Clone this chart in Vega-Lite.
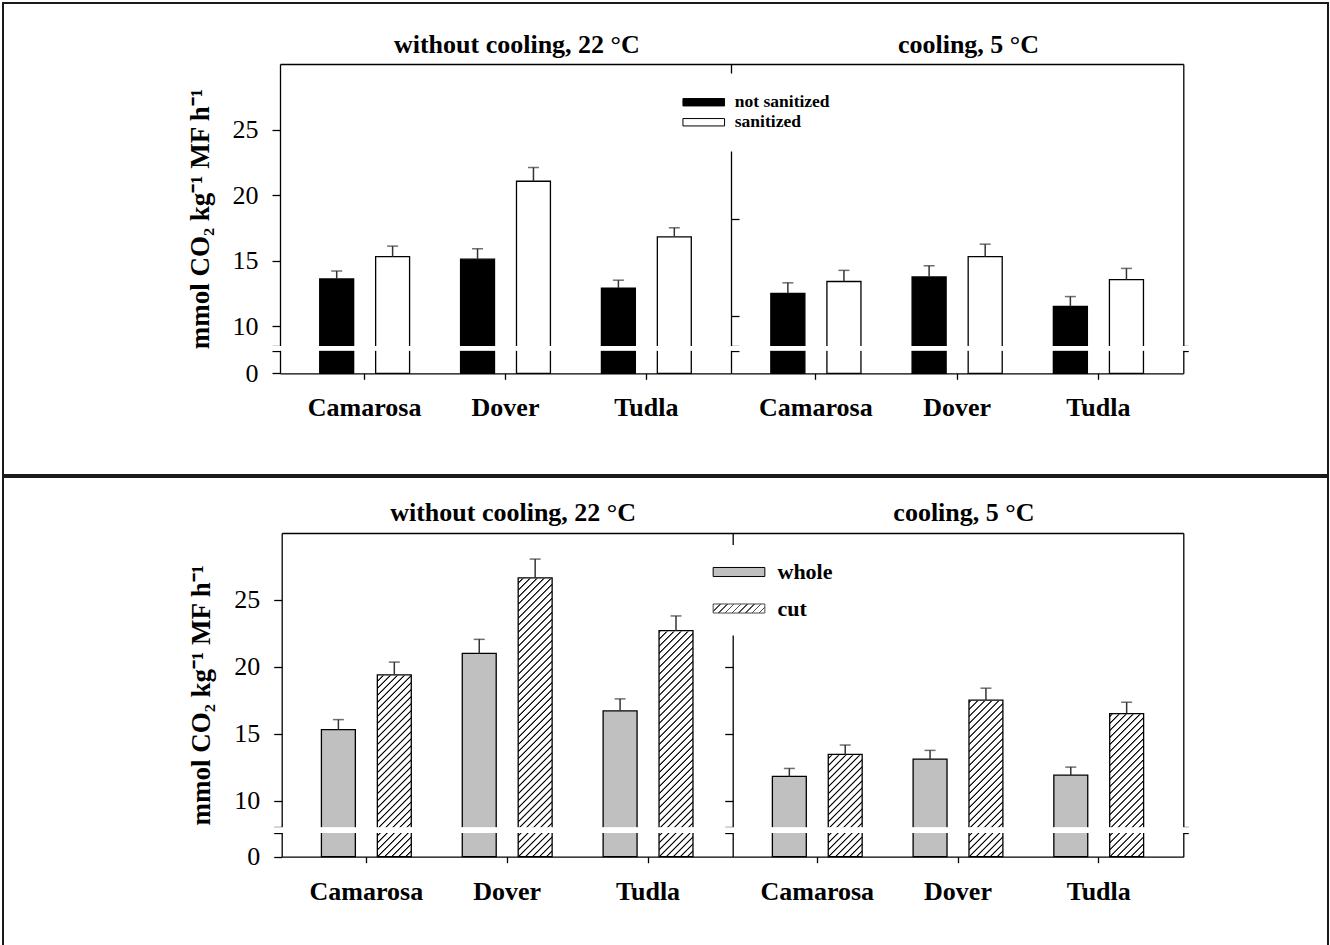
{
  "$schema": "https://vega.github.io/schema/vega-lite/v6.json",
  "padding": {"left": 2, "top": 2, "right": 1, "bottom": 0},
  "background": "white",
  "spacing": 2,
  "bounds": "flush",
  "resolve": {"scale": {"fill": "independent", "shape": "independent", "stroke": "independent"}, "legend": {"fill": "independent", "shape": "independent"}},
  "config": {
    "font": "Liberation Serif",
    "view": {"stroke": "#1a1a1a", "strokeWidth": 2},
    "axis": {"grid": false, "domainColor": "black", "tickColor": "black", "labelColor": "black", "titleColor": "black", "labelFont": "Liberation Serif", "titleFont": "Liberation Serif", "domainWidth": 1.3, "tickWidth": 1.3, "labelOverlap": false, "labelFlush": false},
    "legend": {"labelFont": "Liberation Serif", "labelColor": "black", "labelFontWeight": "bold", "labelLimit": 0}
  },
  "datasets": {
    "top": [
      {"cooling": "without cooling, 22 °C", "cultivar": "Camarosa", "treatment": "not sanitized", "mean": 13.6, "upper": 14.2},
      {"cooling": "without cooling, 22 °C", "cultivar": "Camarosa", "treatment": "sanitized", "mean": 15.3, "upper": 16.1},
      {"cooling": "without cooling, 22 °C", "cultivar": "Dover", "treatment": "not sanitized", "mean": 15.1, "upper": 15.9},
      {"cooling": "without cooling, 22 °C", "cultivar": "Dover", "treatment": "sanitized", "mean": 21.05, "upper": 22.1},
      {"cooling": "without cooling, 22 °C", "cultivar": "Tudla", "treatment": "not sanitized", "mean": 12.9, "upper": 13.5},
      {"cooling": "without cooling, 22 °C", "cultivar": "Tudla", "treatment": "sanitized", "mean": 16.8, "upper": 17.5},
      {"cooling": "cooling, 5 °C", "cultivar": "Camarosa", "treatment": "not sanitized", "mean": 12.5, "upper": 13.3},
      {"cooling": "cooling, 5 °C", "cultivar": "Camarosa", "treatment": "sanitized", "mean": 13.4, "upper": 14.25},
      {"cooling": "cooling, 5 °C", "cultivar": "Dover", "treatment": "not sanitized", "mean": 13.75, "upper": 14.6},
      {"cooling": "cooling, 5 °C", "cultivar": "Dover", "treatment": "sanitized", "mean": 15.3, "upper": 16.25},
      {"cooling": "cooling, 5 °C", "cultivar": "Tudla", "treatment": "not sanitized", "mean": 11.5, "upper": 12.25},
      {"cooling": "cooling, 5 °C", "cultivar": "Tudla", "treatment": "sanitized", "mean": 13.55, "upper": 14.4}
    ],
    "bottom": [
      {"cooling": "without cooling, 22 °C", "cultivar": "Camarosa", "treatment": "whole", "mean": 15.3, "upper": 16.05},
      {"cooling": "without cooling, 22 °C", "cultivar": "Camarosa", "treatment": "cut", "mean": 19.4, "upper": 20.35},
      {"cooling": "without cooling, 22 °C", "cultivar": "Dover", "treatment": "whole", "mean": 21.0, "upper": 22.05},
      {"cooling": "without cooling, 22 °C", "cultivar": "Dover", "treatment": "cut", "mean": 26.65, "upper": 28.05},
      {"cooling": "without cooling, 22 °C", "cultivar": "Tudla", "treatment": "whole", "mean": 16.7, "upper": 17.6},
      {"cooling": "without cooling, 22 °C", "cultivar": "Tudla", "treatment": "cut", "mean": 22.7, "upper": 23.8},
      {"cooling": "cooling, 5 °C", "cultivar": "Camarosa", "treatment": "whole", "mean": 11.8, "upper": 12.4},
      {"cooling": "cooling, 5 °C", "cultivar": "Camarosa", "treatment": "cut", "mean": 13.45, "upper": 14.15},
      {"cooling": "cooling, 5 °C", "cultivar": "Dover", "treatment": "whole", "mean": 13.1, "upper": 13.75},
      {"cooling": "cooling, 5 °C", "cultivar": "Dover", "treatment": "cut", "mean": 17.5, "upper": 18.4},
      {"cooling": "cooling, 5 °C", "cultivar": "Tudla", "treatment": "whole", "mean": 11.9, "upper": 12.5},
      {"cooling": "cooling, 5 °C", "cultivar": "Tudla", "treatment": "cut", "mean": 16.5, "upper": 17.35}
    ]
  },
  "vconcat": [
    {
      "width": 1325,
      "height": 472,
      "data": {"name": "top"},
      "resolve": {"scale": {"x": "independent", "xOffset": "independent"}, "axis": {"x": "independent", "y": "independent"}},
      "layer": [
        {
          "transform": [{"filter": {"field": "cooling", "equal": "without cooling, 22 °C"}}],
          "encoding": {
            "x": {"field": "cultivar", "type": "nominal", "scale": {"domain": ["Camarosa", "Dover", "Tudla"], "range": [277, 728], "paddingInner": 0.362, "paddingOuter": 0.282},
                  "axis": {"orient": "bottom", "offset": -101.7, "title": null, "labelFontSize": 26, "labelFontWeight": "bold", "labelPadding": 15.5, "tickSize": 6, "labelAngle": 0}},
            "xOffset": {"field": "treatment", "type": "nominal", "scale": {"domain": ["not sanitized", "sanitized"], "paddingInner": 0.393, "paddingOuter": 0}}
          },
          "layer": [
            {
              "mark": {"type": "bar", "stroke": "black", "strokeWidth": 1.3},
              "encoding": {
                "y": {"field": "mean", "type": "quantitative", "scale": {"domain": [0, 4, 8.5, 30], "range": [370.3, 347.7, 342.7, 61], "zero": false, "nice": false},
                      "axis": {"orient": "left", "offset": -277, "values": [0, 4, 8.5, 10, 15, 20, 25], "format": "d", "labelExpr": "datum.value == 0 || datum.value >= 10 ? datum.label : ''", "labelFontSize": 26, "labelPadding": 14, "tickSize": 8, "title": "mmol CO₂ kg⁻¹ MF h⁻¹", "titleFontSize": 27, "titleFontWeight": "bold", "titlePadding": 18,
                               "encode": {"ticks": {"x": {"condition": {"test": "datum.value == 4 || datum.value == 8.5", "value": -2}, "value": 0}, "x2": {"condition": {"test": "datum.value == 4 || datum.value == 8.5", "value": 10}, "value": -8}}}}},
                "fill": {"field": "treatment", "type": "nominal", "scale": {"domain": ["not sanitized", "sanitized"], "range": ["black", "white"]},
                         "legend": {"orient": "none", "legendX": 672, "legendY": 70.5, "title": null, "direction": "vertical", "symbolType": "M-4,-0.71H4V0.71H-4Z", "symbolSize": 108.2, "symbolStrokeColor": "black", "symbolStrokeWidth": 1, "labelFontSize": 17.5, "labelOffset": 22.3, "rowPadding": 1, "padding": 20, "fillColor": "white"}}
              }
            },
            {
              "mark": {"type": "rule", "color": "#333", "strokeWidth": 1.5},
              "encoding": {"y": {"field": "mean", "type": "quantitative", "scale": {"domain": [0, 4, 8.5, 30], "range": [370.3, 347.7, 342.7, 61], "zero": false, "nice": false}}, "y2": {"field": "upper"}}
            },
            {
              "mark": {"type": "tick", "color": "#333", "thickness": 1.5, "size": 11, "orient": "horizontal"},
              "encoding": {"y": {"field": "upper", "type": "quantitative", "scale": {"domain": [0, 4, 8.5, 30], "range": [370.3, 347.7, 342.7, 61], "zero": false, "nice": false}}}
            }
          ]
        },
        {
          "transform": [{"filter": {"field": "cooling", "equal": "cooling, 5 °C"}}],
          "encoding": {
            "x": {"field": "cultivar", "type": "nominal", "scale": {"domain": ["Camarosa", "Dover", "Tudla"], "range": [728, 1180.3], "paddingInner": 0.362, "paddingOuter": 0.282},
                  "axis": {"orient": "bottom", "offset": -101.7, "title": null, "labelFontSize": 26, "labelFontWeight": "bold", "labelPadding": 15.5, "tickSize": 6, "labelAngle": 0}},
            "xOffset": {"field": "treatment", "type": "nominal", "scale": {"domain": ["not sanitized", "sanitized"], "paddingInner": 0.393, "paddingOuter": 0}}
          },
          "layer": [
            {
              "mark": {"type": "bar", "stroke": "black", "strokeWidth": 1.3},
              "encoding": {
                "y": {"field": "mean", "type": "quantitative", "scale": {"domain": [0, 4, 8.5, 30], "range": [370.3, 347.7, 342.7, 61], "zero": false, "nice": false},
                      "axis": {"orient": "left", "offset": -728, "values": [4, 8.5, 10.75, 18.15], "labels": false, "title": null, "tickSize": -8,
                               "encode": {"ticks": {"x": {"condition": {"test": "datum.value < 9", "value": -10}, "value": 0}, "x2": {"condition": {"test": "datum.value < 9", "value": 10}, "value": 8}}}}},
                "fill": {"field": "treatment", "type": "nominal", "scale": {"domain": ["not sanitized", "sanitized"], "range": ["black", "white"]},
                         "legend": {"orient": "none", "legendX": 672, "legendY": 70.5, "title": null, "direction": "vertical", "symbolType": "M-4,-0.71H4V0.71H-4Z", "symbolSize": 108.2, "symbolStrokeColor": "black", "symbolStrokeWidth": 1, "labelFontSize": 17.5, "labelOffset": 22.3, "rowPadding": 1, "padding": 20, "fillColor": "white"}}
              }
            },
            {
              "mark": {"type": "rule", "color": "#333", "strokeWidth": 1.5},
              "encoding": {"y": {"field": "mean", "type": "quantitative", "scale": {"domain": [0, 4, 8.5, 30], "range": [370.3, 347.7, 342.7, 61], "zero": false, "nice": false}}, "y2": {"field": "upper"}}
            },
            {
              "mark": {"type": "tick", "color": "#333", "thickness": 1.5, "size": 11, "orient": "horizontal"},
              "encoding": {"y": {"field": "upper", "type": "quantitative", "scale": {"domain": [0, 4, 8.5, 30], "range": [370.3, 347.7, 342.7, 61], "zero": false, "nice": false}}}
            }
          ]
        },
        {
          "mark": {"type": "rect", "color": "white"},
          "encoding": {
            "x": {"field": "cooling", "type": "nominal", "scale": {"domain": ["without cooling, 22 °C", "cooling, 5 °C"], "range": [268, 1190], "paddingInner": 0, "paddingOuter": 0}, "axis": null},
            "y": {"datum": 4.45, "type": "quantitative", "scale": {"domain": [0, 4, 8.5, 30], "range": [370.3, 347.7, 342.7, 61], "zero": false, "nice": false},
                  "axis": {"orient": "right", "offset": -144.7, "values": [4, 8.5], "labels": false, "title": null, "encode": {"ticks": {"x": {"value": -10}, "x2": {"value": 10}}}}},
            "y2": {"datum": 8.05}
          }
        },
        {
          "mark": {"type": "rect", "opacity": 0},
          "encoding": {
            "x": {"field": "cooling", "type": "nominal", "scale": {"domain": ["without cooling, 22 °C", "cooling, 5 °C"], "range": [277, 1180.3], "paddingInner": 0, "paddingOuter": 0},
                  "axis": {"orient": "top", "offset": -61, "title": null, "ticks": false, "labelFontSize": 26, "labelFontWeight": "bold", "labelPadding": 7, "labelLimit": 0, "labelAngle": 0, "labelOffset": 11}},
            "y": {"datum": 29.9, "type": "quantitative", "scale": {"domain": [0, 4, 8.5, 30], "range": [370.3, 347.7, 342.7, 61], "zero": false, "nice": false}, "axis": null},
            "y2": {"datum": 30}
          }
        }
      ]
    },
    {
      "width": 1325,
      "height": 472,
      "data": {"name": "bottom"},
      "resolve": {"scale": {"x": "independent", "xOffset": "independent"}, "axis": {"x": "independent", "y": "independent"}},
      "layer": [
        {
          "transform": [{"filter": {"field": "cooling", "equal": "without cooling, 22 °C"}}],
          "encoding": {
            "x": {"field": "cultivar", "type": "nominal", "scale": {"domain": ["Camarosa", "Dover", "Tudla"], "range": [278.7, 729.7], "paddingInner": 0.362, "paddingOuter": 0.282},
                  "axis": {"orient": "bottom", "offset": -92.3, "title": null, "labelFontSize": 26, "labelFontWeight": "bold", "labelPadding": 15.5, "tickSize": 6, "labelAngle": 0}},
            "xOffset": {"field": "treatment", "type": "nominal", "scale": {"domain": ["whole", "cut"], "paddingInner": 0.393, "paddingOuter": 0}}
          },
          "layer": [
            {
              "transform": [{"filter": {"field": "treatment", "equal": "cut"}}],
              "mark": {"type": "bar", "fill": {"gradient": "linear", "x1": 0, "y1": 0, "x2": 0.1174, "y2": 1.0947, "stops": [
                {"offset":0,"color":"#fff"},{"offset":0.003,"color":"#000"},{"offset":0.0045,"color":"#000"},{"offset":0.0075,"color":"#fff"},
                {"offset":0.02,"color":"#fff"},{"offset":0.023,"color":"#000"},{"offset":0.0245,"color":"#000"},{"offset":0.0275,"color":"#fff"},
                {"offset":0.04,"color":"#fff"},{"offset":0.043,"color":"#000"},{"offset":0.0445,"color":"#000"},{"offset":0.0475,"color":"#fff"},
                {"offset":0.06,"color":"#fff"},{"offset":0.063,"color":"#000"},{"offset":0.0645,"color":"#000"},{"offset":0.0675,"color":"#fff"},
                {"offset":0.08,"color":"#fff"},{"offset":0.083,"color":"#000"},{"offset":0.0845,"color":"#000"},{"offset":0.0875,"color":"#fff"},
                {"offset":0.1,"color":"#fff"},{"offset":0.103,"color":"#000"},{"offset":0.1045,"color":"#000"},{"offset":0.1075,"color":"#fff"},
                {"offset":0.12,"color":"#fff"},{"offset":0.123,"color":"#000"},{"offset":0.1245,"color":"#000"},{"offset":0.1275,"color":"#fff"},
                {"offset":0.14,"color":"#fff"},{"offset":0.143,"color":"#000"},{"offset":0.1445,"color":"#000"},{"offset":0.1475,"color":"#fff"},
                {"offset":0.16,"color":"#fff"},{"offset":0.163,"color":"#000"},{"offset":0.1645,"color":"#000"},{"offset":0.1675,"color":"#fff"},
                {"offset":0.18,"color":"#fff"},{"offset":0.183,"color":"#000"},{"offset":0.1845,"color":"#000"},{"offset":0.1875,"color":"#fff"},
                {"offset":0.2,"color":"#fff"},{"offset":0.203,"color":"#000"},{"offset":0.2045,"color":"#000"},{"offset":0.2075,"color":"#fff"},
                {"offset":0.22,"color":"#fff"},{"offset":0.223,"color":"#000"},{"offset":0.2245,"color":"#000"},{"offset":0.2275,"color":"#fff"},
                {"offset":0.24,"color":"#fff"},{"offset":0.243,"color":"#000"},{"offset":0.2445,"color":"#000"},{"offset":0.2475,"color":"#fff"},
                {"offset":0.26,"color":"#fff"},{"offset":0.263,"color":"#000"},{"offset":0.2645,"color":"#000"},{"offset":0.2675,"color":"#fff"},
                {"offset":0.28,"color":"#fff"},{"offset":0.283,"color":"#000"},{"offset":0.2845,"color":"#000"},{"offset":0.2875,"color":"#fff"},
                {"offset":0.3,"color":"#fff"},{"offset":0.303,"color":"#000"},{"offset":0.3045,"color":"#000"},{"offset":0.3075,"color":"#fff"},
                {"offset":0.32,"color":"#fff"},{"offset":0.323,"color":"#000"},{"offset":0.3245,"color":"#000"},{"offset":0.3275,"color":"#fff"},
                {"offset":0.34,"color":"#fff"},{"offset":0.343,"color":"#000"},{"offset":0.3445,"color":"#000"},{"offset":0.3475,"color":"#fff"},
                {"offset":0.36,"color":"#fff"},{"offset":0.363,"color":"#000"},{"offset":0.3645,"color":"#000"},{"offset":0.3675,"color":"#fff"},
                {"offset":0.38,"color":"#fff"},{"offset":0.383,"color":"#000"},{"offset":0.3845,"color":"#000"},{"offset":0.3875,"color":"#fff"},
                {"offset":0.4,"color":"#fff"},{"offset":0.403,"color":"#000"},{"offset":0.4045,"color":"#000"},{"offset":0.4075,"color":"#fff"},
                {"offset":0.42,"color":"#fff"},{"offset":0.423,"color":"#000"},{"offset":0.4245,"color":"#000"},{"offset":0.4275,"color":"#fff"},
                {"offset":0.44,"color":"#fff"},{"offset":0.443,"color":"#000"},{"offset":0.4445,"color":"#000"},{"offset":0.4475,"color":"#fff"},
                {"offset":0.46,"color":"#fff"},{"offset":0.463,"color":"#000"},{"offset":0.4645,"color":"#000"},{"offset":0.4675,"color":"#fff"},
                {"offset":0.48,"color":"#fff"},{"offset":0.483,"color":"#000"},{"offset":0.4845,"color":"#000"},{"offset":0.4875,"color":"#fff"},
                {"offset":0.5,"color":"#fff"},{"offset":0.503,"color":"#000"},{"offset":0.5045,"color":"#000"},{"offset":0.5075,"color":"#fff"},
                {"offset":0.52,"color":"#fff"},{"offset":0.523,"color":"#000"},{"offset":0.5245,"color":"#000"},{"offset":0.5275,"color":"#fff"},
                {"offset":0.54,"color":"#fff"},{"offset":0.543,"color":"#000"},{"offset":0.5445,"color":"#000"},{"offset":0.5475,"color":"#fff"},
                {"offset":0.56,"color":"#fff"},{"offset":0.563,"color":"#000"},{"offset":0.5645,"color":"#000"},{"offset":0.5675,"color":"#fff"},
                {"offset":0.58,"color":"#fff"},{"offset":0.583,"color":"#000"},{"offset":0.5845,"color":"#000"},{"offset":0.5875,"color":"#fff"},
                {"offset":0.6,"color":"#fff"},{"offset":0.603,"color":"#000"},{"offset":0.6045,"color":"#000"},{"offset":0.6075,"color":"#fff"},
                {"offset":0.62,"color":"#fff"},{"offset":0.623,"color":"#000"},{"offset":0.6245,"color":"#000"},{"offset":0.6275,"color":"#fff"},
                {"offset":0.64,"color":"#fff"},{"offset":0.643,"color":"#000"},{"offset":0.6445,"color":"#000"},{"offset":0.6475,"color":"#fff"},
                {"offset":0.66,"color":"#fff"},{"offset":0.663,"color":"#000"},{"offset":0.6645,"color":"#000"},{"offset":0.6675,"color":"#fff"},
                {"offset":0.68,"color":"#fff"},{"offset":0.683,"color":"#000"},{"offset":0.6845,"color":"#000"},{"offset":0.6875,"color":"#fff"},
                {"offset":0.7,"color":"#fff"},{"offset":0.703,"color":"#000"},{"offset":0.7045,"color":"#000"},{"offset":0.7075,"color":"#fff"},
                {"offset":0.72,"color":"#fff"},{"offset":0.723,"color":"#000"},{"offset":0.7245,"color":"#000"},{"offset":0.7275,"color":"#fff"},
                {"offset":0.74,"color":"#fff"},{"offset":0.743,"color":"#000"},{"offset":0.7445,"color":"#000"},{"offset":0.7475,"color":"#fff"},
                {"offset":0.76,"color":"#fff"},{"offset":0.763,"color":"#000"},{"offset":0.7645,"color":"#000"},{"offset":0.7675,"color":"#fff"},
                {"offset":0.78,"color":"#fff"},{"offset":0.783,"color":"#000"},{"offset":0.7845,"color":"#000"},{"offset":0.7875,"color":"#fff"},
                {"offset":0.8,"color":"#fff"},{"offset":0.803,"color":"#000"},{"offset":0.8045,"color":"#000"},{"offset":0.8075,"color":"#fff"},
                {"offset":0.82,"color":"#fff"},{"offset":0.823,"color":"#000"},{"offset":0.8245,"color":"#000"},{"offset":0.8275,"color":"#fff"},
                {"offset":0.84,"color":"#fff"},{"offset":0.843,"color":"#000"},{"offset":0.8445,"color":"#000"},{"offset":0.8475,"color":"#fff"},
                {"offset":0.86,"color":"#fff"},{"offset":0.863,"color":"#000"},{"offset":0.8645,"color":"#000"},{"offset":0.8675,"color":"#fff"},
                {"offset":0.88,"color":"#fff"},{"offset":0.883,"color":"#000"},{"offset":0.8845,"color":"#000"},{"offset":0.8875,"color":"#fff"},
                {"offset":0.9,"color":"#fff"},{"offset":0.903,"color":"#000"},{"offset":0.9045,"color":"#000"},{"offset":0.9075,"color":"#fff"},
                {"offset":0.92,"color":"#fff"},{"offset":0.923,"color":"#000"},{"offset":0.9245,"color":"#000"},{"offset":0.9275,"color":"#fff"},
                {"offset":0.94,"color":"#fff"},{"offset":0.943,"color":"#000"},{"offset":0.9445,"color":"#000"},{"offset":0.9475,"color":"#fff"},
                {"offset":0.96,"color":"#fff"},{"offset":0.963,"color":"#000"},{"offset":0.9645,"color":"#000"},{"offset":0.9675,"color":"#fff"},
                {"offset":0.98,"color":"#fff"},{"offset":0.983,"color":"#000"},{"offset":0.9845,"color":"#000"},{"offset":0.9875,"color":"#fff"},
                {"offset":1,"color":"#fff"}
              ]}},
              "encoding": {
                "y": {"datum": 29.5, "type": "quantitative", "scale": {"domain": [0, 4, 8, 30], "range": [379.7, 356.3, 350.3, 56], "zero": false, "nice": false},
                      "axis": {"orient": "left", "offset": -278.7, "values": [0, 4, 8, 10, 15, 20, 25], "format": "d", "labelExpr": "datum.value == 0 || datum.value >= 10 ? datum.label : ''", "labelFontSize": 26, "labelPadding": 14, "tickSize": 8, "title": "mmol CO₂ kg⁻¹ MF h⁻¹", "titleFontSize": 27, "titleFontWeight": "bold", "titlePadding": 18,
                               "encode": {"ticks": {"x": {"condition": {"test": "datum.value == 4 || datum.value == 8", "value": -2}, "value": 0}, "x2": {"condition": {"test": "datum.value == 4 || datum.value == 8", "value": 10}, "value": -8}}}}},
                "y2": {"datum": 0}
              }
            },
            {
              "transform": [{"filter": {"field": "treatment", "equal": "cut"}}],
              "mark": {"type": "bar", "fill": "white", "stroke": "white", "strokeWidth": 1.5},
              "encoding": {"y": {"field": "mean", "type": "quantitative", "scale": {"domain": [0, 4, 8, 30], "range": [379.7, 356.3, 350.3, 56], "zero": false, "nice": false}}, "y2": {"datum": 29.7}}
            },
            {
              "mark": {"type": "bar", "stroke": "black", "strokeWidth": 1.3},
              "encoding": {
                "y": {"field": "mean", "type": "quantitative", "scale": {"domain": [0, 4, 8, 30], "range": [379.7, 356.3, 350.3, 56], "zero": false, "nice": false}},
                "fill": {"field": "treatment", "type": "nominal", "scale": {"domain": ["whole", "cut"], "range": ["#c0c0c0", "rgba(0,0,0,0)"]},
                         "legend": {"orient": "none", "legendX": 709, "legendY": 68, "title": null, "values": ["whole"], "direction": "vertical", "symbolType": "M-4,-0.7H4V0.7H-4Z", "symbolSize": 167, "symbolStrokeColor": "black", "symbolStrokeWidth": 1, "labelFontSize": 22, "labelOffset": 27.5, "padding": 16, "fillColor": "white"}}
              }
            },
            {
              "mark": {"type": "rule", "color": "#333", "strokeWidth": 1.5},
              "encoding": {"y": {"field": "mean", "type": "quantitative", "scale": {"domain": [0, 4, 8, 30], "range": [379.7, 356.3, 350.3, 56], "zero": false, "nice": false}}, "y2": {"field": "upper"}}
            },
            {
              "mark": {"type": "tick", "color": "#333", "thickness": 1.5, "size": 11, "orient": "horizontal"},
              "encoding": {"y": {"field": "upper", "type": "quantitative", "scale": {"domain": [0, 4, 8, 30], "range": [379.7, 356.3, 350.3, 56], "zero": false, "nice": false}}}
            },
            {
              "transform": [{"filter": {"field": "treatment", "equal": "cut"}}],
              "mark": {"type": "point", "filled": true, "size": 1, "strokeWidth": 1, "fill": {"gradient": "linear", "x1": 0, "y1": 0, "x2": 1.1395, "y2": 0.1983, "stops": [
                {"offset":0,"color":"#000"},{"offset":0.025,"color":"#000"},{"offset":0.025,"color":"#fff"},{"offset":0.1111,"color":"#fff"},
                {"offset":0.1111,"color":"#000"},{"offset":0.1361,"color":"#000"},{"offset":0.1361,"color":"#fff"},{"offset":0.2222,"color":"#fff"},
                {"offset":0.2222,"color":"#000"},{"offset":0.2472,"color":"#000"},{"offset":0.2472,"color":"#fff"},{"offset":0.3333,"color":"#fff"},
                {"offset":0.3333,"color":"#000"},{"offset":0.3583,"color":"#000"},{"offset":0.3583,"color":"#fff"},{"offset":0.4444,"color":"#fff"},
                {"offset":0.4444,"color":"#000"},{"offset":0.4694,"color":"#000"},{"offset":0.4694,"color":"#fff"},{"offset":0.5556,"color":"#fff"},
                {"offset":0.5556,"color":"#000"},{"offset":0.5806,"color":"#000"},{"offset":0.5806,"color":"#fff"},{"offset":0.6667,"color":"#fff"},
                {"offset":0.6667,"color":"#000"},{"offset":0.6917,"color":"#000"},{"offset":0.6917,"color":"#fff"},{"offset":0.7778,"color":"#fff"},
                {"offset":0.7778,"color":"#000"},{"offset":0.8028,"color":"#000"},{"offset":0.8028,"color":"#fff"},{"offset":0.8889,"color":"#fff"},
                {"offset":0.8889,"color":"#000"},{"offset":0.9139,"color":"#000"},{"offset":0.9139,"color":"#fff"},{"offset":1,"color":"#fff"}
              ]}},
              "encoding": {
                "y": {"datum": 6, "type": "quantitative", "scale": {"domain": [0, 4, 8, 30], "range": [379.7, 356.3, 350.3, 56], "zero": false, "nice": false}},
                "stroke": {"field": "treatment", "type": "nominal", "scale": {"domain": ["cut"], "range": ["black"]}, "legend": null},
                "shape": {"field": "treatment", "type": "nominal", "scale": {"domain": ["cut"], "range": ["M-4,-0.7H4V0.7H-4Z"]},
                          "legend": {"orient": "none", "legendX": 709, "legendY": 104.5, "title": null, "direction": "vertical", "symbolSize": 167, "symbolStrokeWidth": 1, "labelFontSize": 22, "labelOffset": 27.5, "padding": 16, "fillColor": "white"}}
              }
            }
          ]
        },
        {
          "transform": [{"filter": {"field": "cooling", "equal": "cooling, 5 °C"}}],
          "encoding": {
            "x": {"field": "cultivar", "type": "nominal", "scale": {"domain": ["Camarosa", "Dover", "Tudla"], "range": [729.7, 1180.3], "paddingInner": 0.362, "paddingOuter": 0.282},
                  "axis": {"orient": "bottom", "offset": -92.3, "title": null, "labelFontSize": 26, "labelFontWeight": "bold", "labelPadding": 15.5, "tickSize": 6, "labelAngle": 0}},
            "xOffset": {"field": "treatment", "type": "nominal", "scale": {"domain": ["whole", "cut"], "paddingInner": 0.393, "paddingOuter": 0}}
          },
          "layer": [
            {
              "transform": [{"filter": {"field": "treatment", "equal": "cut"}}],
              "mark": {"type": "bar", "fill": {"gradient": "linear", "x1": 0, "y1": 0, "x2": 0.1174, "y2": 1.0947, "stops": [
                {"offset":0,"color":"#fff"},{"offset":0.003,"color":"#000"},{"offset":0.0045,"color":"#000"},{"offset":0.0075,"color":"#fff"},
                {"offset":0.02,"color":"#fff"},{"offset":0.023,"color":"#000"},{"offset":0.0245,"color":"#000"},{"offset":0.0275,"color":"#fff"},
                {"offset":0.04,"color":"#fff"},{"offset":0.043,"color":"#000"},{"offset":0.0445,"color":"#000"},{"offset":0.0475,"color":"#fff"},
                {"offset":0.06,"color":"#fff"},{"offset":0.063,"color":"#000"},{"offset":0.0645,"color":"#000"},{"offset":0.0675,"color":"#fff"},
                {"offset":0.08,"color":"#fff"},{"offset":0.083,"color":"#000"},{"offset":0.0845,"color":"#000"},{"offset":0.0875,"color":"#fff"},
                {"offset":0.1,"color":"#fff"},{"offset":0.103,"color":"#000"},{"offset":0.1045,"color":"#000"},{"offset":0.1075,"color":"#fff"},
                {"offset":0.12,"color":"#fff"},{"offset":0.123,"color":"#000"},{"offset":0.1245,"color":"#000"},{"offset":0.1275,"color":"#fff"},
                {"offset":0.14,"color":"#fff"},{"offset":0.143,"color":"#000"},{"offset":0.1445,"color":"#000"},{"offset":0.1475,"color":"#fff"},
                {"offset":0.16,"color":"#fff"},{"offset":0.163,"color":"#000"},{"offset":0.1645,"color":"#000"},{"offset":0.1675,"color":"#fff"},
                {"offset":0.18,"color":"#fff"},{"offset":0.183,"color":"#000"},{"offset":0.1845,"color":"#000"},{"offset":0.1875,"color":"#fff"},
                {"offset":0.2,"color":"#fff"},{"offset":0.203,"color":"#000"},{"offset":0.2045,"color":"#000"},{"offset":0.2075,"color":"#fff"},
                {"offset":0.22,"color":"#fff"},{"offset":0.223,"color":"#000"},{"offset":0.2245,"color":"#000"},{"offset":0.2275,"color":"#fff"},
                {"offset":0.24,"color":"#fff"},{"offset":0.243,"color":"#000"},{"offset":0.2445,"color":"#000"},{"offset":0.2475,"color":"#fff"},
                {"offset":0.26,"color":"#fff"},{"offset":0.263,"color":"#000"},{"offset":0.2645,"color":"#000"},{"offset":0.2675,"color":"#fff"},
                {"offset":0.28,"color":"#fff"},{"offset":0.283,"color":"#000"},{"offset":0.2845,"color":"#000"},{"offset":0.2875,"color":"#fff"},
                {"offset":0.3,"color":"#fff"},{"offset":0.303,"color":"#000"},{"offset":0.3045,"color":"#000"},{"offset":0.3075,"color":"#fff"},
                {"offset":0.32,"color":"#fff"},{"offset":0.323,"color":"#000"},{"offset":0.3245,"color":"#000"},{"offset":0.3275,"color":"#fff"},
                {"offset":0.34,"color":"#fff"},{"offset":0.343,"color":"#000"},{"offset":0.3445,"color":"#000"},{"offset":0.3475,"color":"#fff"},
                {"offset":0.36,"color":"#fff"},{"offset":0.363,"color":"#000"},{"offset":0.3645,"color":"#000"},{"offset":0.3675,"color":"#fff"},
                {"offset":0.38,"color":"#fff"},{"offset":0.383,"color":"#000"},{"offset":0.3845,"color":"#000"},{"offset":0.3875,"color":"#fff"},
                {"offset":0.4,"color":"#fff"},{"offset":0.403,"color":"#000"},{"offset":0.4045,"color":"#000"},{"offset":0.4075,"color":"#fff"},
                {"offset":0.42,"color":"#fff"},{"offset":0.423,"color":"#000"},{"offset":0.4245,"color":"#000"},{"offset":0.4275,"color":"#fff"},
                {"offset":0.44,"color":"#fff"},{"offset":0.443,"color":"#000"},{"offset":0.4445,"color":"#000"},{"offset":0.4475,"color":"#fff"},
                {"offset":0.46,"color":"#fff"},{"offset":0.463,"color":"#000"},{"offset":0.4645,"color":"#000"},{"offset":0.4675,"color":"#fff"},
                {"offset":0.48,"color":"#fff"},{"offset":0.483,"color":"#000"},{"offset":0.4845,"color":"#000"},{"offset":0.4875,"color":"#fff"},
                {"offset":0.5,"color":"#fff"},{"offset":0.503,"color":"#000"},{"offset":0.5045,"color":"#000"},{"offset":0.5075,"color":"#fff"},
                {"offset":0.52,"color":"#fff"},{"offset":0.523,"color":"#000"},{"offset":0.5245,"color":"#000"},{"offset":0.5275,"color":"#fff"},
                {"offset":0.54,"color":"#fff"},{"offset":0.543,"color":"#000"},{"offset":0.5445,"color":"#000"},{"offset":0.5475,"color":"#fff"},
                {"offset":0.56,"color":"#fff"},{"offset":0.563,"color":"#000"},{"offset":0.5645,"color":"#000"},{"offset":0.5675,"color":"#fff"},
                {"offset":0.58,"color":"#fff"},{"offset":0.583,"color":"#000"},{"offset":0.5845,"color":"#000"},{"offset":0.5875,"color":"#fff"},
                {"offset":0.6,"color":"#fff"},{"offset":0.603,"color":"#000"},{"offset":0.6045,"color":"#000"},{"offset":0.6075,"color":"#fff"},
                {"offset":0.62,"color":"#fff"},{"offset":0.623,"color":"#000"},{"offset":0.6245,"color":"#000"},{"offset":0.6275,"color":"#fff"},
                {"offset":0.64,"color":"#fff"},{"offset":0.643,"color":"#000"},{"offset":0.6445,"color":"#000"},{"offset":0.6475,"color":"#fff"},
                {"offset":0.66,"color":"#fff"},{"offset":0.663,"color":"#000"},{"offset":0.6645,"color":"#000"},{"offset":0.6675,"color":"#fff"},
                {"offset":0.68,"color":"#fff"},{"offset":0.683,"color":"#000"},{"offset":0.6845,"color":"#000"},{"offset":0.6875,"color":"#fff"},
                {"offset":0.7,"color":"#fff"},{"offset":0.703,"color":"#000"},{"offset":0.7045,"color":"#000"},{"offset":0.7075,"color":"#fff"},
                {"offset":0.72,"color":"#fff"},{"offset":0.723,"color":"#000"},{"offset":0.7245,"color":"#000"},{"offset":0.7275,"color":"#fff"},
                {"offset":0.74,"color":"#fff"},{"offset":0.743,"color":"#000"},{"offset":0.7445,"color":"#000"},{"offset":0.7475,"color":"#fff"},
                {"offset":0.76,"color":"#fff"},{"offset":0.763,"color":"#000"},{"offset":0.7645,"color":"#000"},{"offset":0.7675,"color":"#fff"},
                {"offset":0.78,"color":"#fff"},{"offset":0.783,"color":"#000"},{"offset":0.7845,"color":"#000"},{"offset":0.7875,"color":"#fff"},
                {"offset":0.8,"color":"#fff"},{"offset":0.803,"color":"#000"},{"offset":0.8045,"color":"#000"},{"offset":0.8075,"color":"#fff"},
                {"offset":0.82,"color":"#fff"},{"offset":0.823,"color":"#000"},{"offset":0.8245,"color":"#000"},{"offset":0.8275,"color":"#fff"},
                {"offset":0.84,"color":"#fff"},{"offset":0.843,"color":"#000"},{"offset":0.8445,"color":"#000"},{"offset":0.8475,"color":"#fff"},
                {"offset":0.86,"color":"#fff"},{"offset":0.863,"color":"#000"},{"offset":0.8645,"color":"#000"},{"offset":0.8675,"color":"#fff"},
                {"offset":0.88,"color":"#fff"},{"offset":0.883,"color":"#000"},{"offset":0.8845,"color":"#000"},{"offset":0.8875,"color":"#fff"},
                {"offset":0.9,"color":"#fff"},{"offset":0.903,"color":"#000"},{"offset":0.9045,"color":"#000"},{"offset":0.9075,"color":"#fff"},
                {"offset":0.92,"color":"#fff"},{"offset":0.923,"color":"#000"},{"offset":0.9245,"color":"#000"},{"offset":0.9275,"color":"#fff"},
                {"offset":0.94,"color":"#fff"},{"offset":0.943,"color":"#000"},{"offset":0.9445,"color":"#000"},{"offset":0.9475,"color":"#fff"},
                {"offset":0.96,"color":"#fff"},{"offset":0.963,"color":"#000"},{"offset":0.9645,"color":"#000"},{"offset":0.9675,"color":"#fff"},
                {"offset":0.98,"color":"#fff"},{"offset":0.983,"color":"#000"},{"offset":0.9845,"color":"#000"},{"offset":0.9875,"color":"#fff"},
                {"offset":1,"color":"#fff"}
              ]}},
              "encoding": {
                "y": {"datum": 29.5, "type": "quantitative", "scale": {"domain": [0, 4, 8, 30], "range": [379.7, 356.3, 350.3, 56], "zero": false, "nice": false},
                      "axis": {"orient": "left", "offset": -729.7, "values": [4, 8, 10, 15, 20, 25], "labels": false, "title": null, "tickSize": 8,
                               "encode": {"ticks": {"x": {"condition": {"test": "datum.value < 9", "value": -10}, "value": 0}, "x2": {"condition": {"test": "datum.value < 9", "value": 10}, "value": -8}}}}},
                "y2": {"datum": 0}
              }
            },
            {
              "transform": [{"filter": {"field": "treatment", "equal": "cut"}}],
              "mark": {"type": "bar", "fill": "white", "stroke": "white", "strokeWidth": 1.5},
              "encoding": {"y": {"field": "mean", "type": "quantitative", "scale": {"domain": [0, 4, 8, 30], "range": [379.7, 356.3, 350.3, 56], "zero": false, "nice": false}}, "y2": {"datum": 29.7}}
            },
            {
              "mark": {"type": "bar", "stroke": "black", "strokeWidth": 1.3},
              "encoding": {
                "y": {"field": "mean", "type": "quantitative", "scale": {"domain": [0, 4, 8, 30], "range": [379.7, 356.3, 350.3, 56], "zero": false, "nice": false}},
                "fill": {"field": "treatment", "type": "nominal", "scale": {"domain": ["whole", "cut"], "range": ["#c0c0c0", "rgba(0,0,0,0)"]},
                         "legend": {"orient": "none", "legendX": 709, "legendY": 68, "title": null, "values": ["whole"], "direction": "vertical", "symbolType": "M-4,-0.7H4V0.7H-4Z", "symbolSize": 167, "symbolStrokeColor": "black", "symbolStrokeWidth": 1, "labelFontSize": 22, "labelOffset": 27.5, "padding": 16, "fillColor": "white"}}
              }
            },
            {
              "mark": {"type": "rule", "color": "#333", "strokeWidth": 1.5},
              "encoding": {"y": {"field": "mean", "type": "quantitative", "scale": {"domain": [0, 4, 8, 30], "range": [379.7, 356.3, 350.3, 56], "zero": false, "nice": false}}, "y2": {"field": "upper"}}
            },
            {
              "mark": {"type": "tick", "color": "#333", "thickness": 1.5, "size": 11, "orient": "horizontal"},
              "encoding": {"y": {"field": "upper", "type": "quantitative", "scale": {"domain": [0, 4, 8, 30], "range": [379.7, 356.3, 350.3, 56], "zero": false, "nice": false}}}
            }
          ]
        },
        {
          "mark": {"type": "rect", "color": "white"},
          "encoding": {
            "x": {"field": "cooling", "type": "nominal", "scale": {"domain": ["without cooling, 22 °C", "cooling, 5 °C"], "range": [268, 1190], "paddingInner": 0, "paddingOuter": 0}, "axis": null},
            "y": {"datum": 4.33, "type": "quantitative", "scale": {"domain": [0, 4, 8, 30], "range": [379.7, 356.3, 350.3, 56], "zero": false, "nice": false},
                  "axis": {"orient": "right", "offset": -144.7, "values": [4, 8], "labels": false, "title": null, "encode": {"ticks": {"x": {"value": -10}, "x2": {"value": 10}}}}},
            "y2": {"datum": 7.67}
          }
        },
        {
          "mark": {"type": "rect", "opacity": 0},
          "encoding": {
            "x": {"field": "cooling", "type": "nominal", "scale": {"domain": ["without cooling, 22 °C", "cooling, 5 °C"], "range": [278.7, 1180.3], "paddingInner": 0, "paddingOuter": 0},
                  "axis": {"orient": "top", "offset": -56, "title": null, "ticks": false, "labelFontSize": 26, "labelFontWeight": "bold", "labelPadding": 8, "labelLimit": 0, "labelAngle": 0, "labelOffset": 6}},
            "y": {"datum": 29.9, "type": "quantitative", "scale": {"domain": [0, 4, 8, 30], "range": [379.7, 356.3, 350.3, 56], "zero": false, "nice": false}, "axis": null},
            "y2": {"datum": 30}
          }
        }
      ]
    }
  ]
}
